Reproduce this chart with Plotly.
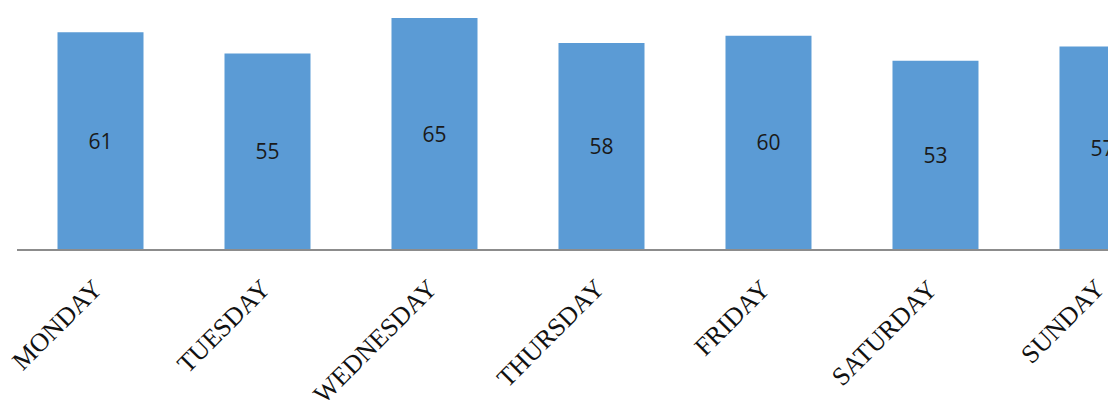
import plotly.graph_objects as go

days = ["MONDAY", "TUESDAY", "WEDNESDAY", "THURSDAY", "FRIDAY", "SATURDAY", "SUNDAY"]
values = [61, 55, 65, 58, 60, 53, 57]

fig = go.Figure(
    go.Bar(
        x=days,
        y=values,
        text=[str(v) for v in values],
        textposition="inside",
        insidetextanchor="middle",
        textangle=0,
        textfont=dict(family="Open Sans, Noto Sans, sans-serif", size=21, color="#1a1a1a"),
        marker=dict(color="#5B9BD5", line=dict(width=0)),
        cliponaxis=True,
    )
)

# Slanted day names placed under each bar
for day in days:
    fig.add_annotation(
        x=day,
        y=0,
        xref="x",
        yref="y",
        text=day,
        showarrow=False,
        textangle=-45,
        xanchor="right",
        yanchor="top",
        xshift=11,
        yshift=-22,
        font=dict(family="Liberation Serif, Times New Roman, serif", size=26, color="#111111"),
    )

fig.update_layout(
    width=1108,
    height=404,
    margin=dict(l=17, r=0, t=0, b=155, autoexpand=False),
    paper_bgcolor="white",
    plot_bgcolor="white",
    bargap=0.485,
    showlegend=False,
)

fig.update_xaxes(
    type="category",
    range=[-0.5, 6.033],
    automargin=False,
    showline=True,
    linecolor="#8c8c8c",
    linewidth=1.5,
    showgrid=False,
    ticks="",
    showticklabels=False,
)

fig.update_yaxes(
    range=[0, 70.08],
    visible=False,
    showgrid=False,
    zeroline=False,
    automargin=False,
)

fig.write_html("out.html", config=dict(displayModeBar=False))
